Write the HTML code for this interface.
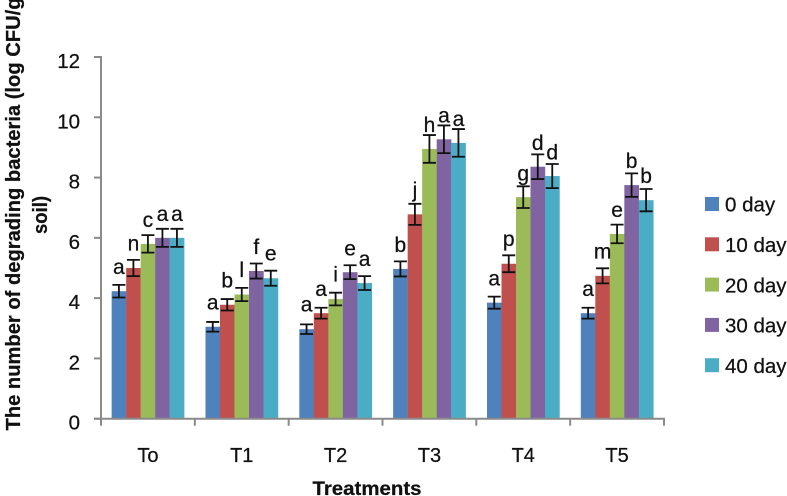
<!DOCTYPE html>
<html>
<head>
<meta charset="utf-8">
<style>
html,body{margin:0;padding:0;background:#fff;}
svg{display:block;}
text{font-family:"Liberation Sans",sans-serif;fill:#111;stroke:#111;stroke-width:0.25px;}
</style>
</head>
<body>
<svg id="chart" xmlns="http://www.w3.org/2000/svg" width="787" height="496" viewBox="0 0 787 496"></svg>
<script>
const categories = ["To", "T1", "T2", "T3", "T4", "T5"];
const seriesNames = ["0 day", "10 day", "20 day", "30 day", "40 day"];
const seriesColors = ["#4f81bd", "#c0504d", "#9bbb59", "#8064a2", "#4bacc6"];
const yTicks = [0, 2, 4, 6, 8, 10, 12];

const day0 = [4.23, 3.05, 2.97, 4.97, 3.85, 3.5];
const day10 = [5.0, 3.78, 3.5, 6.78, 5.14, 4.74];
const day20 = [5.8, 4.12, 3.97, 8.95, 7.35, 6.13];
const day30 = [6.0, 4.9, 4.86, 9.27, 8.36, 7.75];
const day40 = [6.0, 4.66, 4.5, 9.15, 8.05, 7.25];

const err0 = [0.21, 0.16, 0.16, 0.25, 0.2, 0.18];
const err10 = [0.27, 0.19, 0.18, 0.35, 0.28, 0.25];
const err20 = [0.29, 0.22, 0.21, 0.46, 0.36, 0.31];
const err30 = [0.3, 0.25, 0.23, 0.46, 0.41, 0.39];
const err40 = [0.3, 0.25, 0.23, 0.46, 0.4, 0.37];

const letters0 = ["a", "a", "a", "b", "a", "a"];
const letters10 = ["n", "b", "a", "j", "p", "m"];
const letters20 = ["c", "l", "i", "h", "g", "e"];
const letters30 = ["a", "f", "e", "a", "d", "b"];
const letters40 = ["a", "e", "a", "a", "d", "b"];

const seriesValues = [day0, day10, day20, day30, day40];
const seriesErrors = [err0, err10, err20, err30, err40];
const seriesLetters = [letters0, letters10, letters20, letters30, letters40];

const svg = document.getElementById("chart");
const NS = "http://www.w3.org/2000/svg";
const plot = {left: 101, right: 664, top: 57, bottom: 418.7, max: 12};
const axisColor = "#8a8a8a";

function yScale(v) { return plot.bottom - (v / plot.max) * (plot.bottom - plot.top); }
function bandWidth() { return (plot.right - plot.left) / categories.length; }
function xBand(i) { return plot.left + i * bandWidth(); }
function barWidth() { return bandWidth() * 0.773 / seriesNames.length; }
function xBar(c, s) { return xBand(c) + bandWidth() * 0.1135 + s * barWidth(); }

function make(tag, attrs, parent) {
  const el = document.createElementNS(NS, tag);
  for (const k in attrs) el.setAttribute(k, attrs[k]);
  (parent || svg).appendChild(el);
  return el;
}

/* bars */
seriesValues.forEach(function (vals, s) {
  vals.forEach(function (v, c) {
    const bar = make("rect", {x: xBar(c, s), y: yScale(v), width: barWidth() + 0.2, height: plot.bottom - yScale(v), fill: seriesColors[s]});
    
    
  });
});

/* axes */
const yAxis = make("line", {x1: plot.left, x2: plot.left, y1: plot.top - 1, y2: plot.bottom + 7, stroke: axisColor, "stroke-width": 2});


const xAxis = make("line", {x1: plot.left - 7, x2: plot.right + 1, y1: plot.bottom, y2: plot.bottom, stroke: axisColor, "stroke-width": 2});



yTicks.forEach(function (t) {
  const tick = make("line", {x1: plot.left - 7, x2: plot.left, y1: yScale(t), y2: yScale(t), stroke: axisColor, "stroke-width": 2});
  
  
  const label = make("text", {x: 80, y: yScale(t) + 11, "text-anchor": "end", "font-size": 20.5});
  label.textContent = t;
  
  
});

categories.forEach(function (name, c) {
  const tick = make("line", {x1: xBand(c + 1), x2: xBand(c + 1), y1: plot.bottom, y2: plot.bottom + 7, stroke: axisColor, "stroke-width": 2});
  
  
  const label = make("text", {x: xBand(c) + bandWidth() / 2, y: 462, "text-anchor": "middle", "font-size": 20});
  label.textContent = name;
  
  
});

/* error bars and significance letters */
seriesValues.forEach(function (vals, s) {
  vals.forEach(function (v, c) {
    const e = seriesErrors[s][c];
    const cx = xBar(c, s) + barWidth() / 2;
    const hi = yScale(v + e), lo = yScale(v - e);
    const eb = make("path", {d: "M" + cx + " " + hi + "V" + lo + "M" + (cx - 6.5) + " " + hi + "H" + (cx + 6.5) + "M" + (cx - 6.5) + " " + lo + "H" + (cx + 6.5), stroke: "#111", "stroke-width": 1.8, fill: "none"});
    
    
    const gap = 3 + (hi - 130) * 0.05;
    const letter = make("text", {x: cx, y: hi - gap, "text-anchor": "middle", "font-size": 21});
    letter.textContent = seriesLetters[s][c];
    
    
  });
});

/* legend */
seriesNames.forEach(function (name, s) {
  const y = 197 + s * 40.3;
  const sw = make("rect", {x: 705, y: y, width: 14, height: 14, fill: seriesColors[s]});
  
  
  const label = make("text", {x: 725, y: y + 14.7, "font-size": 20.5});
  label.textContent = name;
  
  
});

/* titles */
const yt1 = make("text", {transform: "translate(20,214) rotate(-90)", "text-anchor": "middle", "font-size": 20, "font-weight": "bold", textLength: 433, lengthAdjust: "spacingAndGlyphs"});
yt1.textContent = "The number of degrading bacteria (log CFU/g";


const yt2 = make("text", {transform: "translate(47,215) rotate(-90)", "text-anchor": "middle", "font-size": 20, "font-weight": "bold", textLength: 38, lengthAdjust: "spacingAndGlyphs"});
yt2.textContent = "soil)";


const xt = make("text", {x: 367, y: 495, "text-anchor": "middle", "font-size": 19.5, "font-weight": "bold", textLength: 109, lengthAdjust: "spacingAndGlyphs"});
xt.textContent = "Treatments";


</script>
</body>
</html>
